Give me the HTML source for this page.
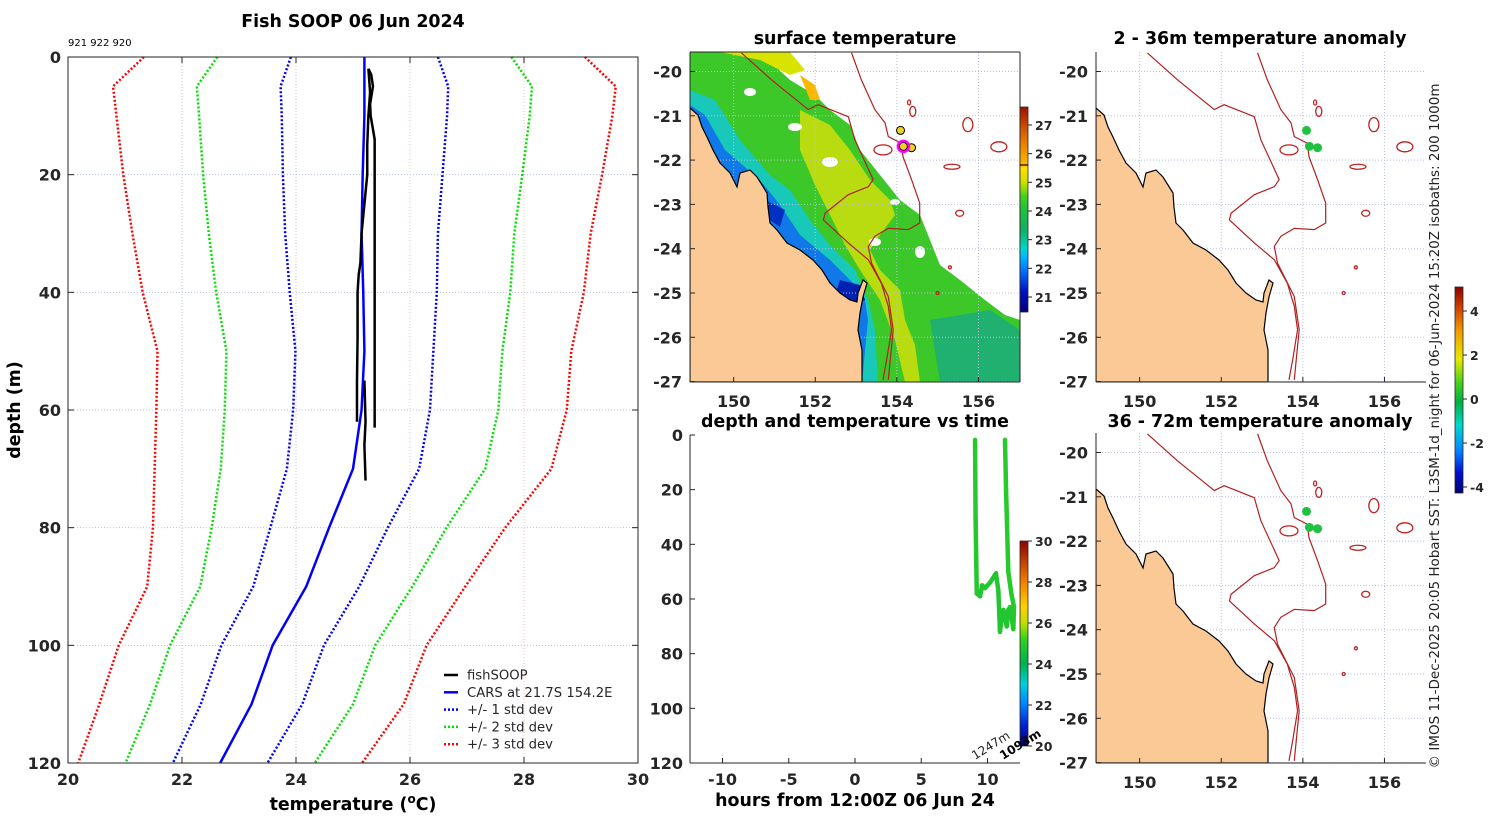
<!DOCTYPE html>
<html><head><meta charset="utf-8">
<style>
html,body{margin:0;padding:0;background:#fff;}
svg text{font-family:"DejaVu Sans","Liberation Sans",sans-serif;}
.tk{font-weight:bold;font-size:16px;fill:#262626;}
.ttl{font-weight:bold;font-size:17.4px;fill:#000;}
.cb{font-weight:bold;font-size:12.5px;fill:#262626;}
</style></head>
<body>
<svg id="fig" width="1500" height="820" viewBox="0 0 1500 820" xmlns="http://www.w3.org/2000/svg">
<defs>
<linearGradient id="sstGrad" x1="0" y1="1" x2="0" y2="0">
<stop offset="0" stop-color="#00007a"/><stop offset="0.1" stop-color="#0010c0"/><stop offset="0.2" stop-color="#0070ff"/><stop offset="0.27" stop-color="#00b8ff"/><stop offset="0.31" stop-color="#00d8c8"/><stop offset="0.4" stop-color="#10b060"/><stop offset="0.5" stop-color="#20c040"/><stop offset="0.56" stop-color="#40d020"/><stop offset="0.63" stop-color="#c8e000"/><stop offset="0.7" stop-color="#ffe000"/><stop offset="0.72" stop-color="#ffb800"/><stop offset="0.85" stop-color="#e07000"/><stop offset="1" stop-color="#a01000"/>
</linearGradient>
<linearGradient id="timeGrad" x1="0" y1="1" x2="0" y2="0">
<stop offset="0" stop-color="#00006a"/><stop offset="0.1" stop-color="#0020d0"/><stop offset="0.2" stop-color="#0080ff"/><stop offset="0.3" stop-color="#00d0e0"/><stop offset="0.4" stop-color="#00b050"/><stop offset="0.52" stop-color="#30d020"/><stop offset="0.6" stop-color="#c0e000"/><stop offset="0.68" stop-color="#ffd000"/><stop offset="0.8" stop-color="#f08000"/><stop offset="1" stop-color="#900000"/>
</linearGradient>
<linearGradient id="anomGrad" x1="0" y1="1" x2="0" y2="0">
<stop offset="0" stop-color="#000070"/><stop offset="0.1" stop-color="#0010d0"/><stop offset="0.2" stop-color="#0080ff"/><stop offset="0.33" stop-color="#00d8d0"/><stop offset="0.44" stop-color="#00b040"/><stop offset="0.53" stop-color="#40d020"/><stop offset="0.65" stop-color="#e8e800"/><stop offset="0.78" stop-color="#f0a000"/><stop offset="0.9" stop-color="#d04000"/><stop offset="1" stop-color="#8a0000"/>
</linearGradient>
</defs>
<g id="left"></g>
<g id="maps"></g>
<g id="timeplot"></g>
</svg>
<script>
// ===== Profile chart data =====
const depths=[0,5,10,20,30,40,50,60,70,80,90,100,110,120];
const carsMean=[25.2,25.2,25.2,25.17,25.15,25.18,25.2,25.15,25.0,24.58,24.18,23.59,23.22,22.67];
const carsStd=[1.29,1.47,1.45,1.40,1.34,1.29,1.21,1.2,1.16,1.03,0.93,0.9,0.89,0.83];
const fishADepth=[2,3,5,8,10,14,20,30,40,50,60,63];
const fishATemp=[25.27,25.32,25.35,25.3,25.31,25.38,25.38,25.38,25.38,25.38,25.38,25.38];
const fishBDepth=[2,6,10,15,20,25,30,35,37,40,48,55,62];
const fishBTemp=[25.27,25.3,25.27,25.25,25.25,25.2,25.15,25.13,25.1,25.08,25.08,25.07,25.07];
const fishCDepth=[55,62,66,72];
const fishCTemp=[25.2,25.22,25.2,25.22];
const tempTicks=[20,22,24,26,28,30];
const depthTicks=[0,20,40,60,80,100,120];
// ===== Time plot data =====
const trackHours=[9.06,9.1,9.19,9.44,9.6,9.81,10.19,10.64,10.82,10.94,11.1,11.2,11.45,11.57,11.7,11.95,12.0,11.8,11.57,11.4,11.32];
const trackDepth=[1.8,30,58,59,55,56,54,50.6,57,72,66,64,70,64,63,71,63,58,50,20,1.8];
const trackTemp=[25.3,25.3,25.2,25.2,25.2,25.2,25.2,25.2,25.2,25.2,25.2,25.2,25.2,25.2,25.2,25.2,25.3,25.3,25.3,25.3,25.3];
const hourTicks=[-10,-5,0,5,10];
// ===== Map data =====
const lonTicks=[150,152,154,156];
const latTicks=[-20,-21,-22,-23,-24,-25,-26,-27];
const iso1000Lon=[152.89,153.13,153.46,153.71,153.79,154.11,154.15,154.36,154.56,154.56,154.28,153.79,153.46,153.30,153.38,153.79,153.91,153.83,153.79];
const iso1000Lat=[-19.58,-20.19,-20.86,-21.16,-21.47,-21.62,-21.92,-22.44,-22.97,-23.42,-23.57,-23.54,-23.72,-23.95,-24.33,-25.08,-25.83,-26.58,-26.96];
const iso200Lon=[150.19,150.93,151.83,152.07,152.81,152.97,153.42,153.30,152.81,152.24,152.2,152.81,153.30,153.62,153.79,153.87,153.75,153.66];
const iso200Lat=[-19.58,-20.19,-20.86,-20.75,-21.02,-21.54,-22.44,-22.6,-22.78,-23.2,-23.35,-23.87,-24.25,-24.78,-25.3,-25.83,-26.51,-26.96];
const stationLon=[154.09,154.16,154.36];
const stationLat=[-21.33,-21.69,-21.72];

const NS='http://www.w3.org/2000/svg';
function mk(parent,tag,attrs,text){const e=document.createElementNS(NS,tag);for(const k in attrs)e.setAttribute(k,attrs[k]);if(text!==undefined)e.textContent=text;parent.appendChild(e);return e;}

// ---------- Left profile chart ----------
const L=document.getElementById('left');


const X=t=>68+(t-20)*57, Y=d=>57+d*(706/120);
tempTicks.forEach(t=>{if(t>20&&t<30){const g=mk(L,'line',{x1:X(t),x2:X(t),y1:57,y2:763,stroke:(t<25?'#b8c4e8':'#f0c8b0'),'stroke-width':1,'stroke-dasharray':'1,2'});

}});
depthTicks.forEach(d=>{if(d>0&&d<120){const g=mk(L,'line',{x1:68,x2:638,y1:Y(d),y2:Y(d),stroke:'#b8c4e8','stroke-width':1,'stroke-dasharray':'1,2'});

}});
const stdCols=['#0000ff','#00e000','#ff0000'];
[1,2,3].forEach((k,i)=>{[-1,1].forEach(s=>{
 const pts=depths.map((d,j)=>X(carsMean[j]+s*k*carsStd[j])+','+Y(d)).join(' ');
 const p=mk(L,'polyline',{points:pts,fill:'none',stroke:stdCols[i],'stroke-width':2.5,'stroke-dasharray':'2,2'});
 
 
});});
const cm=mk(L,'polyline',{points:depths.map((d,j)=>X(carsMean[j])+','+Y(d)).join(' '),fill:'none',stroke:'#0000ff','stroke-width':2.5});


[[fishADepth,fishATemp],[fishBDepth,fishBTemp],[fishCDepth,fishCTemp]].forEach((a,i)=>{
 const p=mk(L,'polyline',{points:a[0].map((d,j)=>X(a[1][j])+','+Y(d)).join(' '),fill:'none',stroke:'#000','stroke-width':2.5});
 
 
});
const fr=mk(L,'rect',{x:68,y:57,width:570,height:706,fill:'none',stroke:'#262626','stroke-width':1});


tempTicks.forEach(t=>{mk(L,'line',{x1:X(t),x2:X(t),y1:763,y2:757,stroke:'#262626'});mk(L,'line',{x1:X(t),x2:X(t),y1:57,y2:63,stroke:'#262626'});
 const tx=mk(L,'text',{x:X(t),y:785,'text-anchor':'middle',class:'tk'},t);
 
 });
depthTicks.forEach(d=>{mk(L,'line',{x1:68,x2:74,y1:Y(d),y2:Y(d),stroke:'#262626'});mk(L,'line',{x1:632,x2:638,y1:Y(d),y2:Y(d),stroke:'#262626'});
 const tx=mk(L,'text',{x:61,y:Y(d)+6,'text-anchor':'end',class:'tk'},d);
 
 });
</script>
<script>
// static labels
(function(){
const s=document.getElementById('fig');
function T(x,y,txt,cls,name,extra){const e=document.createElementNS(NS,'text');e.setAttribute('x',x);e.setAttribute('y',y);if(cls)e.setAttribute('class',cls);for(const k in (extra||{}))e.setAttribute(k,extra[k]);e.textContent=txt;


s.appendChild(e);return e;}
T(353,27,'Fish SOOP 06 Jun 2024','ttl','chart-title',{'text-anchor':'middle'});
T(68,46,'921 922 920',null,'profile-ids',{'font-size':'10px'});
T(20,410,'depth (m)','ttl','y-axis-title',{'text-anchor':'middle',transform:'rotate(-90 20 410)'});
const xt=T(353,810,'temperature (','ttl','x-axis-title',{'text-anchor':'middle'});
const sup=document.createElementNS(NS,'tspan');sup.setAttribute('dy','-7');sup.setAttribute('font-size','12px');sup.textContent='o';xt.appendChild(sup);
const rest=document.createElementNS(NS,'tspan');rest.setAttribute('dy','7');rest.textContent='C)';xt.appendChild(rest);
// legend
const lg=document.createElementNS(NS,'g');


s.appendChild(lg);
const items=[['fishSOOP','#000',''],['CARS at 21.7S 154.2E','#0000ff',''],['+/- 1 std dev','#0000ff','2,2'],['+/- 2 std dev','#00e000','2,2'],['+/- 3 std dev','#ff0000','2,2']];
items.forEach((it,i)=>{const y=675+i*17.3;
 const ln=mk(lg,'line',{x1:444,x2:458,y1:y,y2:y,stroke:it[1],'stroke-width':2.5,'stroke-dasharray':it[2]||'none'});
 
 
 const t=mk(lg,'text',{x:467,y:y+4.5,'font-size':'13.2px',fill:'#262626'},it[0]);
 
 });
T(855,44,'surface temperature','ttl','sst-map-title',{'text-anchor':'middle'});
T(855,427,'depth and temperature vs time','ttl','time-plot-title',{'text-anchor':'middle'});
T(1260,44,'2 - 36m temperature anomaly','ttl','anomaly-map-shallow-title',{'text-anchor':'middle'});
T(1260,427,'36 - 72m temperature anomaly','ttl','anomaly-map-deep-title',{'text-anchor':'middle'});
T(855,806,'hours from 12:00Z 06 Jun 24','ttl','time-x-axis-title',{'text-anchor':'middle'});
T(1439,426,'© IMOS 11-Dec-2025 20:05 Hobart SST: L3SM-1d_night for 06-Jun-2024 15:20Z isobaths: 200  1000m',null,'credit-text',{'text-anchor':'middle','font-size':'13.5px',fill:'#222',transform:'rotate(-90 1439 426)'});
})();
</script>
<script>
// ---------- Maps ----------
(function(){
const M=document.getElementById('maps');
const PXLON=40.8, PXLAT=44.3, LON0=148.93, LAT0=-19.56;
const coast=[[0,56],[8,63],[12,75],[17,85],[23,98],[30,111],[40,121],[47,135],[50,121],[60,118],[67,125],[77,141],[78,155],[80,171],[87,178],[97,191],[110,198],[123,208],[132,218],[140,231],[150,241],[160,248],[167,250],[168,241],[173,228],[177,231],[173,245],[170,261],[168,278],[172,298],[172,330],[0,330]];
function map(x0,y0,opts){
 const g=mk(M,'g',{});
 
 
 const cid='clip'+opts.name;
 const cp=mk(g,'clipPath',{id:cid});mk(cp,'rect',{x:x0,y:y0,width:330,height:330});
 const inner=mk(g,'g',{'clip-path':'url(#'+cid+')'});
 const P=(lon,lat)=>[x0+(lon-LON0)*PXLON,y0+(LAT0-lat)*PXLAT];
 if(opts.sst){
  const polys=[
   ['#3cc828',[[0,0],[70,0],[100,28],[125,43],[140,58],[160,73],[170,98],[190,123],[210,148],[230,163],[240,188],[250,213],[270,228],[295,248],[315,263],[330,268],[330,330],[0,330]]],
   ['#d8e400',[[30,0],[100,0],[115,18],[100,23],[70,8]]],
   ['#f8b800',[[110,23],[125,33],[130,48],[120,48]]],
   ['#b8dc10',[[110,58],[140,73],[160,98],[180,128],[200,148],[205,163],[190,183],[180,198],[190,218],[210,238],[215,268],[225,293],[230,330],[215,330],[205,288],[190,248],[170,218],[155,193],[140,163],[125,133],[110,98]]],
   ['#20b070',[[240,268],[300,258],[330,278],[330,330],[250,330]]],
   ['#18c8b8',[[0,38],[25,48],[50,88],[80,123],[100,138],[120,168],[140,193],[165,218],[178,248],[185,278],[188,330],[170,330],[0,330]]],
   ['#1078e8',[[0,53],[15,63],[35,98],[70,128],[90,153],[110,183],[140,208],[165,233],[175,248],[178,268],[172,330],[0,330]]],
   ['#0020b0',[[150,228],[170,233],[175,248],[160,253],[145,243]]],
   ['#0030c0',[[75,148],[95,158],[90,175],[75,165]]]
  ];
  polys.forEach(pp=>{const p=mk(inner,'polygon',{points:pp[1].map(q=>(x0+q[0])+','+(y0+q[1])).join(' '),fill:pp[0]});
   
   });
  [[140,110,8,5],[185,190,6,4],[105,75,7,4],[230,200,5,6],[60,40,6,4],[205,150,5,3]].forEach(c=>{const e=mk(inner,'ellipse',{cx:x0+c[0],cy:y0+c[1],rx:c[2],ry:c[3],fill:'#fff'});
   
   });
 }
 lonTicks.forEach(l=>{const [x]=P(l,0);const gl=mk(inner,'line',{x1:x,x2:x,y1:y0,y2:y0+330,stroke:'#b8c0e0','stroke-dasharray':'1,2'});
  
  });
 latTicks.forEach(l=>{const [,y]=P(0,l);const gl=mk(inner,'line',{x1:x0,x2:x0+330,y1:y,y2:y,stroke:'#b8c0e0','stroke-dasharray':'1,2'});
  
  });
 const land=mk(inner,'polygon',{points:coast.map(q=>(x0+q[0])+','+(y0+q[1])).join(' '),fill:'#fbc995',stroke:'#000','stroke-width':1.2});
 
 
 [[iso1000Lon,iso1000Lat,'isobath-1000m'],[iso200Lon,iso200Lat,'isobath-200m']].forEach(a=>{
  const p=mk(inner,'polyline',{points:a[0].map((lo,i)=>P(lo,a[1][i]).join(',')).join(' '),fill:'none',stroke:'#b02020','stroke-width':1.2});
  
  });
 [[154.39,-20.9,3,5],[155.74,-21.2,5,7],[153.66,-21.77,9,5],[155.35,-22.15,8,2.5],[156.5,-21.7,8,5],[155.54,-23.2,4,3],[155.3,-24.42,1.5,1.5],[154.3,-20.7,1.5,2.5],[155.0,-25.0,1.5,1.5]].forEach(s=>{const [cx,cy]=P(s[0],s[1]);
  const e=mk(inner,'ellipse',{cx:cx,cy:cy,rx:s[2],ry:s[3],fill:'none',stroke:'#c02020','stroke-width':1.3});
  
  });
 stationLon.forEach((lo,i)=>{const [cx,cy]=P(lo,stationLat[i]);
  const c=mk(inner,'circle',{cx:cx,cy:cy,r:opts.sst?4:4.5,fill:opts.dotFill,stroke:opts.sst?'#000':'none','stroke-width':1});
  
  });
 if(opts.sst){const [cx,cy]=P(stationLon[1],stationLat[1]);const c=mk(inner,'circle',{cx:cx,cy:cy,r:5.5,fill:'none',stroke:'#ff00ff','stroke-width':2.5});
  
  }
 mk(g,'line',{x1:x0,x2:x0,y1:y0,y2:y0+330,stroke:'#262626'});
 mk(g,'line',{x1:x0,x2:x0+330,y1:y0+330,y2:y0+330,stroke:'#262626'});
 if(opts.sst){mk(g,'line',{x1:x0+330,x2:x0+330,y1:y0,y2:y0+330,stroke:'#262626'});mk(g,'line',{x1:x0,x2:x0+330,y1:y0,y2:y0,stroke:'#262626'});}
 latTicks.forEach(l=>{const [,y]=P(0,l);mk(g,'line',{x1:x0,x2:x0+5,y1:y,y2:y,stroke:'#262626'});
  const t=mk(g,'text',{x:x0-8,y:y+6,'text-anchor':'end',class:'tk'},l);
  
  });
 lonTicks.forEach(l=>{const [x]=P(l,0);mk(g,'line',{x1:x,x2:x,y1:y0+330,y2:y0+325,stroke:'#262626'});
  const t=mk(g,'text',{x:x,y:y0+355,'text-anchor':'middle',class:'tk'},l);
  
  });
}
map(690,52,{name:'sst-map',sst:true,dotFill:'#f0d020'});
map(1096,52,{name:'anomaly-map-shallow',sst:false,dotFill:'#20c040'});
map(1096,433,{name:'anomaly-map-deep',sst:false,dotFill:'#20c040'});
function cbar(x,y,h,grad,ticks,yOf,name){
 const g=mk(M,'g',{});
 
 
 mk(g,'rect',{x:x,y:y,width:8,height:h,fill:'url(#'+grad+')',stroke:'#262626','stroke-width':0.8});
 ticks.forEach(v=>{const yy=yOf(v);mk(g,'line',{x1:x+8,x2:x+12,y1:yy,y2:yy,stroke:'#262626'});
  const t=mk(g,'text',{x:x+15,y:yy+5,class:'cb'},v);
  
  });
 return g;
}
const sg=cbar(1020,107,205,'sstGrad',[21,22,23,24,25,26,27],v=>297-(v-21)*28.67,'sst-colorbar');
mk(sg,'line',{x1:1020,x2:1028,y1:165,y2:165,stroke:'#000','stroke-width':1.2});
cbar(1020,541,205,'timeGrad',[20,22,24,26,28,30],v=>746-(v-20)*20.5,'time-colorbar');
cbar(1455,287,206,'anomGrad',[-4,-2,0,2,4],v=>399-v*22,'anomaly-colorbar');
})();
</script>
<script>
// ---------- Time plot ----------
(function(){
const G=document.getElementById('timeplot');


const HX=h=>855+h*13.25, DY=d=>435+d*(328/120);
function col(t){const stops=[[20,[0,0,140]],[22,[0,128,255]],[23.5,[0,208,224]],[24.5,[0,176,80]],[25.5,[48,208,32]],[26.5,[200,224,0]],[27.5,[255,200,0]],[28.5,[240,128,0]],[30,[144,0,0]]];
 for(let i=0;i<stops.length-1;i++){if(t<=stops[i+1][0]){const f=(t-stops[i][0])/(stops[i+1][0]-stops[i][0]);const a=stops[i][1],b=stops[i+1][1];return 'rgb('+a.map((v,k)=>Math.round(v+(b[k]-v)*f)).join(',')+')';}}return 'rgb(144,0,0)';}
for(let i=0;i<trackHours.length-1;i++){
 const s=mk(G,'line',{x1:HX(trackHours[i]),y1:DY(trackDepth[i]),x2:HX(trackHours[i+1]),y2:DY(trackDepth[i+1]),stroke:col((trackTemp[i]+trackTemp[i+1])/2),'stroke-width':4.5,'stroke-linecap':'round'});
 
 
}
mk(G,'line',{x1:690,x2:690,y1:435,y2:763,stroke:'#262626'});
mk(G,'line',{x1:690,x2:1020,y1:763,y2:763,stroke:'#262626'});
hourTicks.forEach(h=>{mk(G,'line',{x1:HX(h),x2:HX(h),y1:763,y2:758,stroke:'#262626'});
 const t=mk(G,'text',{x:HX(h),y:785,'text-anchor':'middle',class:'tk'},h);
 
 });
depthTicks.forEach(d=>{mk(G,'line',{x1:690,x2:695,y1:DY(d),y2:DY(d),stroke:'#262626'});
 const t=mk(G,'text',{x:683,y:DY(d)+6,'text-anchor':'end',class:'tk'},d);
 
 });
const a=mk(G,'text',{x:975,y:760,'font-size':'12px',fill:'#222',transform:'rotate(-32 975 760)'},'1247m');


const b=mk(G,'text',{x:1003,y:760,'font-size':'12px','font-weight':'bold',fill:'#000',transform:'rotate(-32 1003 760)'},'1093m');


})();
</script>
</body></html>
